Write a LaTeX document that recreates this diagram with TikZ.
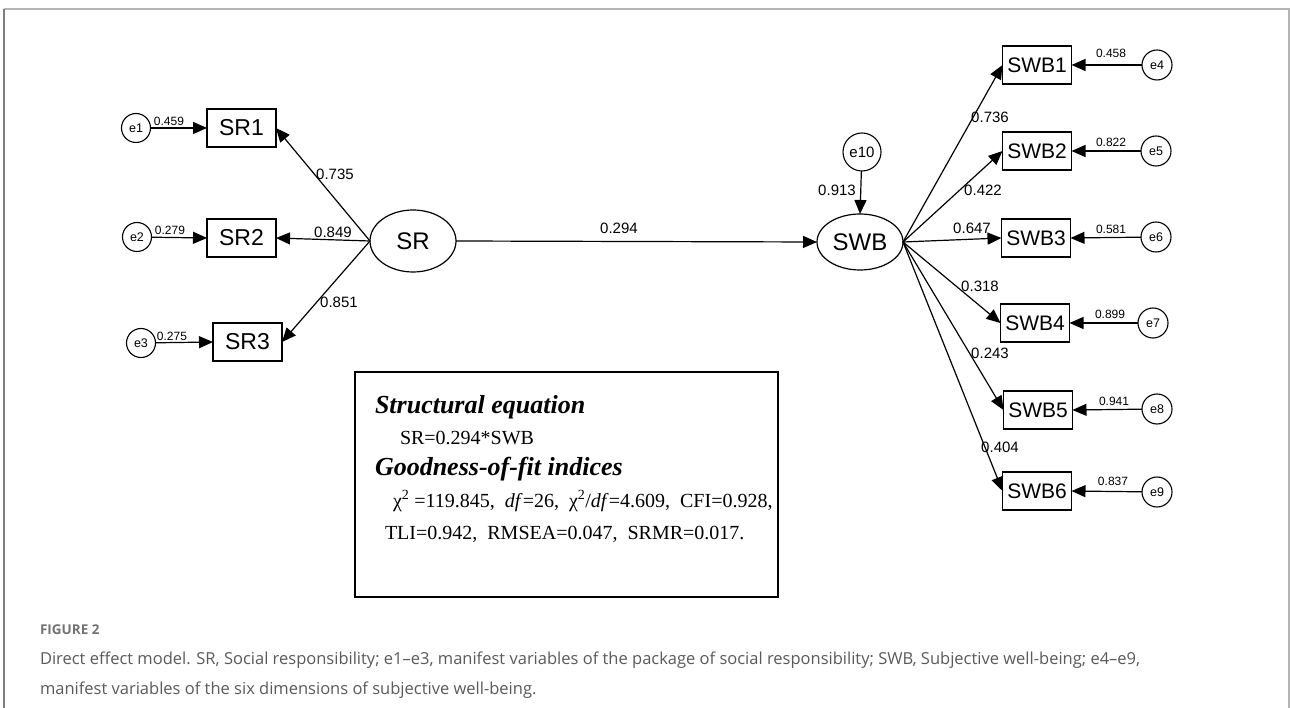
\documentclass[tikz,border=0pt]{standalone}
\usepackage{fontspec}
\setmainfont{Liberation Serif}
\newfontfamily\diagfont{Liberation Sans}
\newfontfamily\capfont{Open Sans}
\usetikzlibrary{arrows.meta,shapes.geometric}
\definecolor{capgray}{HTML}{5A5A5A}
\definecolor{framegray}{HTML}{B4B4B4}
\begin{document}
\begin{tikzpicture}[x=1pt,y=-1pt,
  every node/.style={inner sep=0pt, outer sep=0pt},
  obsbox/.style={draw, line width=1.2pt, minimum width=69pt, minimum height=38pt, font=\diagfont\fontsize{23}{23}\selectfont},
  swbbox/.style={obsbox, font=\diagfont\fontsize{21}{21}\selectfont},
  latent/.style={draw, ellipse, line width=1.2pt, font=\diagfont\fontsize{24}{24}\selectfont},
  errc/.style={draw, circle, line width=1.1pt, minimum size=29pt, font=\diagfont\fontsize{12.5}{12.5}\selectfont},
  conn/.style={line width=1.2pt, -{Triangle[length=14pt,width=12pt]}},
  coef/.style={font=\diagfont\fontsize{15}{15}\selectfont},
  smallcoef/.style={font=\diagfont\fontsize{12}{12}\selectfont},
  heading/.style={anchor=base west, font=\fontsize{26}{26}\selectfont\bfseries\itshape},
  bodyline/.style={anchor=base west, font=\fontsize{20}{20}\selectfont},
]
\useasboundingbox (0,0) rectangle (1290,708);
\fill[white] (0,0) rectangle (1290,708);
% frame
\draw[framegray, line width=2pt] (4,9) -- (1290,9);
\draw[gray, line width=1.4pt] (4,9) -- (4,708);
\draw[framegray, line width=1.4pt] (1289,9) -- (1289,708);

% left side
\node[errc] (e1) at (136,128) {e1};
\node[errc] (e2) at (137,237) {e2};
\node[errc] (e3) at (141,343) {e3};
\node[obsbox] (SR1) at (241.5,128) {SR1};
\node[obsbox] (SR2) at (241.5,238) {SR2};
\node[obsbox] (SR3) at (247.5,342) {SR3};
\node[latent, minimum width=86pt, minimum height=62pt] (SR) at (413,241) {SR};

\draw[conn] (e1) -- (SR1.west);
\draw[conn] (e2) -- (SR2.west);
\draw[conn] (e3) -- (SR3.west);
\draw[conn] (SR.west) -- (SR1.east);
\draw[conn] (SR.west) -- (SR2.east);
\draw[conn] (SR.west) -- (SR3.east);

\node[smallcoef] (l1) at (169,121) {0.459};
\node[smallcoef] (l2) at (170,230) {0.279};
\node[smallcoef] (l3) at (172,336) {0.275};
\node[coef] (lsr1) at (335,174) {0.735};
\node[coef] (lsr2) at (333,232) {0.849};
\node[coef] (lsr3) at (339,302) {0.851};

% middle
\node[latent, minimum width=86pt, minimum height=56pt] (SWB) at (860,242) {SWB};
\node[errc, minimum size=38pt, font=\diagfont\fontsize{15}{15}\selectfont] (e10) at (862,152) {e10};
\draw[conn] (SR.east) -- (SWB.west);
\draw[conn] (e10) -- (SWB.north);
\node[coef] (lmain) at (619,228) {0.294};
\node[coef] (l10) at (837,190) {0.913};

% right side
\foreach \i/\y/\bx in {1/65/1037, 2/151/1037, 3/238/1036, 4/323/1035, 5/410/1038, 6/491/1037}{
  \node[swbbox] (SWB\i) at (\bx,\y) {SWB\i};
}
\node[errc, minimum size=30pt] (e4) at (1157,65) {e4};
\node[errc, minimum size=30pt] (e5) at (1156,151) {e5};
\node[errc, minimum size=30pt] (e6) at (1156,237) {e6};
\node[errc, minimum size=30pt] (e7) at (1153,323) {e7};
\node[errc, minimum size=30pt] (e8) at (1157,409) {e8};
\node[errc, minimum size=30pt] (e9) at (1157,492) {e9};
\foreach \i/\e in {1/4,2/5,3/6,4/7,5/8,6/9}{
  \draw[conn] (SWB.east) -- (SWB\i.west);
  \draw[conn] (e\e) -- (SWB\i.east);
}
\node[coef] (c1) at (990,117) {0.736};
\node[coef] (c2) at (983,190) {0.422};
\node[coef] (c3) at (972,228) {0.647};
\node[coef] (c4) at (980,286) {0.318};
\node[coef] (c5) at (990,353) {0.243};
\node[coef] (c6) at (1000,447) {0.404};
\node[smallcoef] (r4) at (1111,53) {0.458};
\node[smallcoef] (r5) at (1111,142) {0.822};
\node[smallcoef] (r6) at (1111,229) {0.581};
\node[smallcoef] (r7) at (1110,314) {0.899};
\node[smallcoef] (r8) at (1114,401) {0.941};
\node[smallcoef] (r9) at (1113,481) {0.837};

% equation box
\draw[line width=2pt] (355,372) rectangle (778,597);
\node[heading] (h1) at (375,413) {Structural equation};
\node[bodyline] (b1) at (400,444) {SR=0.294*SWB};
\node[heading] (h2) at (375,475) {Goodness-of-fit indices};
\node[bodyline] (b2) at (393,507) {χ\textsuperscript{2} =119.845,\ \ \textit{df}=26,\ \ χ\textsuperscript{2}/\textit{df}=4.609,\ \ CFI=0.928,};
\node[bodyline] (b3) at (385,539) {TLI=0.942,\ \ RMSEA=0.047,\ \ SRMR=0.017.};

% caption
\node[anchor=base west, font=\capfont\fontsize{13.5}{13.5}\selectfont\bfseries, text=capgray!85] (figlab) at (40,634) {FIGURE 2};
\node[anchor=base west, font=\capfont\fontsize{16.5}{16.5}\selectfont, text=capgray] (cap1) at (40,664) {Direct effect model. SR, Social responsibility; e1–e3, manifest variables of the package of social responsibility; SWB, Subjective well-being; e4–e9,};
\node[anchor=base west, font=\capfont\fontsize{16.5}{16.5}\selectfont, text=capgray] (cap2) at (40,694) {manifest variables of the six dimensions of subjective well-being.};
\end{tikzpicture}
\end{document}
